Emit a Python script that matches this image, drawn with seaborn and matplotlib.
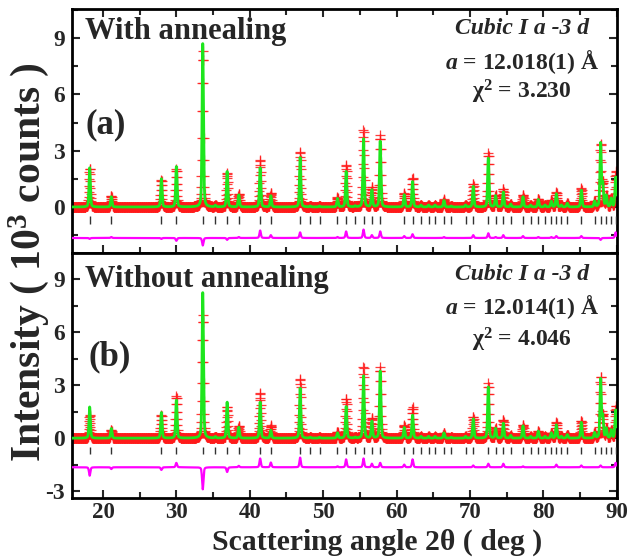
import numpy as np
import matplotlib
matplotlib.use('Agg')
import matplotlib.pyplot as plt
import seaborn as sns
from matplotlib.ticker import MultipleLocator

sns.set_theme(style='ticks')
plt.rcParams['font.family'] = ['Liberation Serif', 'DejaVu Serif']
plt.rcParams['font.weight'] = 'bold'
plt.rcParams['mathtext.fontset'] = 'custom'
plt.rcParams['mathtext.rm'] = 'Liberation Serif:bold'
plt.rcParams['mathtext.it'] = 'Liberation Serif:italic:bold'
plt.rcParams['mathtext.bf'] = 'Liberation Serif:bold'
plt.rcParams['axes.unicode_minus'] = False

# ---------------- data ----------------
bragg_pos = [18.18, 21.13, 27.95, 29.99, 33.59, 35.31, 36.91, 38.50, 41.41, 42.87,
             46.86, 48.23, 49.50, 51.95, 53.13, 54.36, 55.50, 56.64, 57.77, 61.04,
             62.18, 63.32, 64.36, 65.25, 66.46, 67.45, 69.40, 70.45, 72.50, 73.50,
             74.55, 75.55, 77.23, 78.27, 79.32, 80.23, 81.09, 81.77, 82.45, 83.27,
             85.18, 86.99, 87.81, 88.59, 89.27, 89.86]

peak_pos = [18.18, 21.13, 27.95, 29.99, 33.59, 35.31, 36.91, 38.50, 41.41, 42.87,
            46.86, 48.23, 49.50, 51.95, 53.13, 54.36, 55.50, 56.64, 57.77, 61.04,
            62.18, 63.32, 64.36, 65.25, 66.46, 67.45, 69.40, 70.45, 72.50, 73.50,
            74.55, 75.55, 77.23, 78.27, 79.32, 80.23, 81.09, 81.77, 82.45, 83.27,
            85.18, 86.99, 87.81, 88.10, 88.59, 89.27, 89.86]

# (a) with annealing, intensities in 10^3 counts
calc_a = [2.10, 0.55, 1.50, 2.15, 8.70, 0.08, 1.90, 0.65, 2.10, 0.60,
          2.65, 0.05, 0.05, 0.45, 1.90, 0.05, 3.65, 0.90, 3.50, 0.65,
          1.35, 0.10, 0.10, 0.10, 0.35, 0.05, 0.10, 1.10, 2.60, 0.60,
          0.80, 0.15, 0.55, 0.10, 0.40, 0.10, 0.30, 0.70, 0.10, 0.20,
          0.90, 0.30, 3.40, 1.20, 0.60, 0.45, 1.60]
obs_a = [2.05, 0.60, 1.45, 2.00, 8.30, 0.08, 1.80, 0.70, 2.50, 0.75,
         2.95, 0.05, 0.05, 0.50, 2.25, 0.05, 4.10, 1.05, 3.85, 0.75,
         1.55, 0.10, 0.10, 0.10, 0.40, 0.05, 0.10, 1.25, 2.85, 0.65,
         0.95, 0.15, 0.65, 0.10, 0.45, 0.10, 0.35, 0.80, 0.10, 0.20,
         1.00, 0.30, 3.30, 1.20, 0.60, 0.45, 1.90]

# (b) without annealing
calc_b = [1.78, 0.55, 1.45, 2.15, 8.25, 0.08, 2.05, 0.62, 2.05, 0.45,
          2.85, 0.05, 0.05, 0.30, 1.80, 0.05, 3.55, 0.95, 3.80, 0.60,
          1.30, 0.10, 0.10, 0.10, 0.30, 0.05, 0.10, 1.10, 2.90, 0.55,
          0.85, 0.15, 0.70, 0.10, 0.40, 0.10, 0.30, 0.75, 0.10, 0.20,
          0.90, 0.30, 3.35, 1.20, 0.55, 0.45, 1.60]
obs_b = [1.30, 0.45, 1.30, 2.40, 7.00, 0.08, 1.78, 0.70, 2.55, 0.72,
         3.40, 0.05, 0.05, 0.35, 2.25, 0.05, 4.05, 1.15, 4.05, 0.75,
         1.75, 0.10, 0.10, 0.10, 0.30, 0.05, 0.10, 1.20, 3.10, 0.55,
         1.05, 0.15, 0.75, 0.10, 0.40, 0.10, 0.30, 0.90, 0.10, 0.20,
         1.00, 0.30, 3.45, 1.20, 0.55, 0.45, 1.85]

diff_offset = -1.65
x_ticks_labels = [20, 30, 40, 50, 60, 70, 80, 90]

# ---------------- profile (pseudo-Voigt sum) ----------------
two_theta = np.arange(15.80, 90.0001, 0.03)


def pattern(heights):
    y = np.zeros_like(two_theta)
    for p, h in zip(peak_pos, heights):
        hw = 0.11
        u = (two_theta - p) / hw
        y += h * (0.35 / (1 + u ** 2) + 0.65 * np.exp(-np.log(2) * u ** 2))
    return y


fig = plt.figure(figsize=(6.3, 5.57), dpi=100)
ax1 = fig.add_axes([72 / 630, 1 - 253 / 557, 544.7 / 630, 243.7 / 557])
ax2 = fig.add_axes([72 / 630, 1 - 498.3 / 557, 544.7 / 630, 245.3 / 557])

for ax, calc, obs, ylim, top in [(ax1, calc_a, obs_a, (-2.45, 10.53), True),
                                 (ax2, calc_b, obs_b, (-3.41, 10.5), False)]:
    yc = pattern(calc)
    yo = pattern(obs)
    yd = yo - yc + diff_offset
    sns.scatterplot(x=two_theta, y=yo, marker='+', s=50, color='#ff1a1a',
                    linewidth=0.9, alpha=0.85, ax=ax, zorder=2, legend=False)
    sns.lineplot(x=two_theta, y=yc, color='#1ee61e', lw=2.0, ax=ax,
                 estimator=None, zorder=3)
    sns.lineplot(x=two_theta, y=yd, color='#ff00ff', lw=1.6, ax=ax,
                 estimator=None, zorder=3)
    ax.vlines(bragg_pos, -0.90, -0.50, color='#333333', lw=1.0, zorder=3)
    ax.set_xlim(15.77, 90)
    ax.set_ylim(*ylim)
    ax.xaxis.set_major_locator(MultipleLocator(10))
    ax.xaxis.set_minor_locator(MultipleLocator(5))
    ax.yaxis.set_major_locator(MultipleLocator(3))
    ax.yaxis.set_minor_locator(MultipleLocator(1.5))
    ax.tick_params(which='both', direction='in', width=1.5, right=True,
                   top=top, labelsize=17, pad=5)
    ax.tick_params(axis='x', which='both', pad=3, labelsize=16.5)
    ax.tick_params(which='major', length=6)
    ax.tick_params(which='minor', length=4)
    for s in ax.spines.values():
        s.set_linewidth(2.0)
        s.set_color('black')
    ax.set_xlabel('')
    ax.set_ylabel('')

ax1.tick_params(labelbottom=False)
ax2.set_xticks(x_ticks_labels)
ax2.set_xticklabels([str(v) for v in x_ticks_labels])


def ftext(px, py, s, **kw):
    fig.text(px / 630, 1 - py / 557, s, **kw)


ftext(85, 32, 'With annealing', fontsize=22, ha='left', va='center')
ftext(86, 125, '(a)', fontsize=25, ha='left', va='center')
ftext(522, 28, 'Cubic I a -3 d', fontsize=17, style='italic', ha='center', va='center')
ftext(522, 62, r'$a$ = 12.018(1) Å', fontsize=17, ha='center', va='center')
ftext(522, 92, r'χ$^{2}$ = 3.230', fontsize=17, ha='center', va='center')

ftext(85, 280, 'Without annealing', fontsize=22, ha='left', va='center')
ftext(88, 357, '(b)', fontsize=25, ha='left', va='center')
ftext(522, 275, 'Cubic I a -3 d', fontsize=17, style='italic', ha='center', va='center')
ftext(522, 307, r'$a$ = 12.014(1) Å', fontsize=17, ha='center', va='center')
ftext(522, 340, r'χ$^{2}$ = 4.046', fontsize=17, ha='center', va='center')

ftext(29, 262, r'Intensity ( 10$^{3}$ counts )', fontsize=30, rotation=90,
      ha='center', va='center')
ftext(377, 550, 'Scattering angle 2θ ( deg )', fontsize=21.4, ha='center', va='baseline')

fig.savefig('out.png', dpi=100)
